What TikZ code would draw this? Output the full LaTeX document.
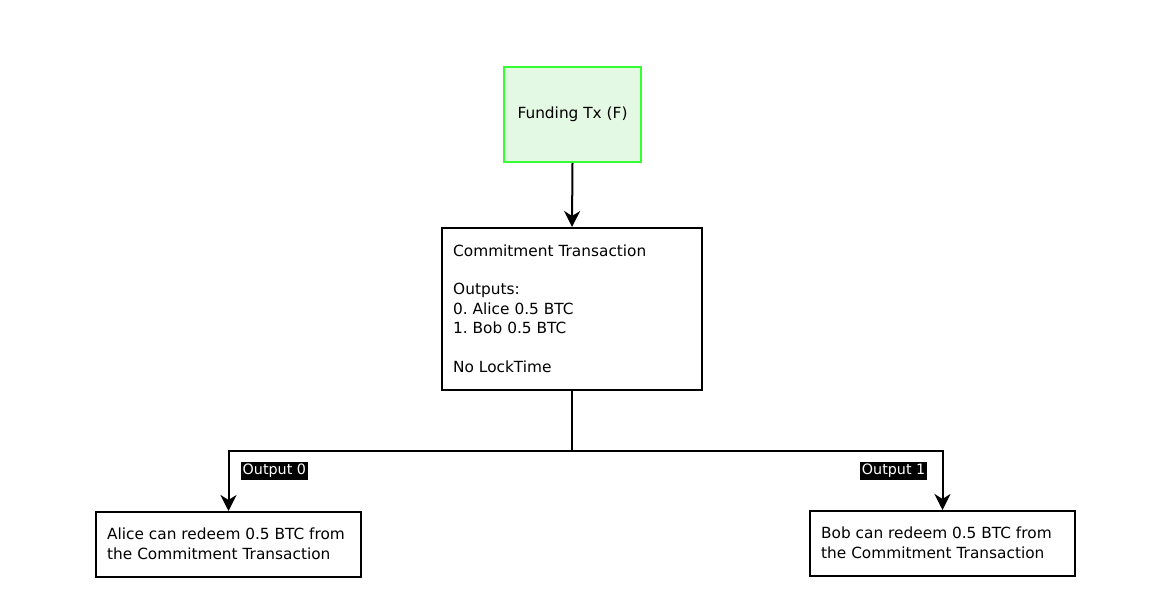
\documentclass[tikz,border=0pt]{standalone}
\usepackage{fontspec}
\setmainfont{DejaVu Sans}
\usetikzlibrary{arrows.meta}
\definecolor{fgreen}{HTML}{33FF33}
\definecolor{fgfill}{HTML}{E3F9E3}
\begin{document}
\frenchspacing
\begin{tikzpicture}[x=1pt,y=-1pt,
  box/.style={draw=black,line width=2pt,inner sep=0pt},
  conn/.style={line width=2pt,-{Stealth[length=16pt,width=16pt,inset=5pt]}},
  lbl/.style={fill=black,text=white,inner xsep=1.5pt,inner ysep=1.75pt,text height=11pt,text depth=3.5pt,font=\fontsize{14.3}{17}\selectfont},
  txt/.style={font=\fontsize{15.35}{19.4}\selectfont,align=left,anchor=north west,inner sep=0pt}]
\useasboundingbox (0,0) rectangle (1171,596);
% boxes
\node[box,draw=fgreen,fill=fgfill,minimum width=137pt,minimum height=95pt] (fund) at (572.5,114.5) {};
\node[font=\fontsize{15.35}{19.4}\selectfont] at (fund.center) {Funding Tx (F)};
\node[box,minimum width=260pt,minimum height=162pt] (comm) at (572,309) {};
\node[txt] at (453,244.3) {Commitment Transaction\\[19.4pt]Outputs:\\0. Alice 0.5 BTC\\1. Bob 0.5 BTC\\[19.4pt]No LockTime};
\node[box,minimum width=265pt,minimum height=65pt] (alice) at (228.5,544.5) {};
\node[txt] at (107,527.8) {Alice can redeem 0.5 BTC from\\the Commitment Transaction};
\node[box,minimum width=265pt,minimum height=65pt] (bob) at (942.5,543.5) {};
\node[txt] at (821,526.8) {Bob can redeem 0.5 BTC from\\the Commitment Transaction};
% connectors
\coordinate (j) at (572,451);
\draw[conn] (fund.south) -- (comm.north);
\draw[conn] (comm.south) -- (j) -| (alice.north);
\draw[conn] (j) -| (bob.north);
\node[lbl,anchor=west] (l0) at (241,471) {Output 0};
\node[lbl,anchor=east] (l1) at (927,471) {Output 1};
\end{tikzpicture}
\end{document}
